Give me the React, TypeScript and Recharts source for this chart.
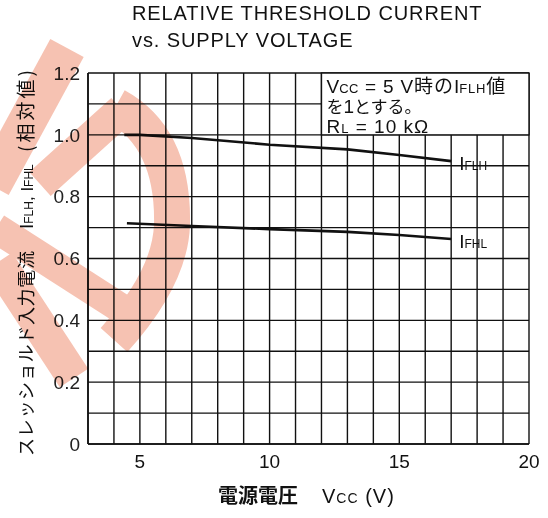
import React from 'react'
import { LineChart, Line, XAxis, YAxis, CartesianGrid, ReferenceArea } from 'recharts'

// supply voltage (V) / relative threshold current
const flhVolts = [4.4, 5, 7, 10, 13, 15, 17]
const flhValues = [1.0, 1.0, 0.99, 0.968, 0.953, 0.935, 0.915]
const fhlVolts = [4.5, 7, 10, 13, 15, 17]
const fhlValues = [0.714, 0.705, 0.695, 0.686, 0.676, 0.663]

const xTicks = [3, 4, 5, 6, 7, 8, 9, 10, 11, 12, 13, 14, 15, 16, 17, 18, 19, 20]
const xLabels = [5, 10, 15, 20]
const yTicks = [0, 0.1, 0.2, 0.3, 0.4, 0.5, 0.6, 0.7, 0.8, 0.9, 1.0, 1.1, 1.2]
const yLabels = [0, 0.2, 0.4, 0.6, 0.8, 1.0, 1.2]

const LATIN = '"Liberation Sans", Arial, sans-serif'
const CJK = '"Noto Sans CJK JP", "Liberation Sans", sans-serif'
const MIXED = '"Liberation Sans", "Noto Sans CJK JP", sans-serif'

const flhData = flhVolts.map((x, i) => ({ x, y: flhValues[i] }))
const fhlData = fhlVolts.map((x, i) => ({ x, y: fhlValues[i] }))

const endLabel = (sub: string, count: number) => (props: any) => {
  if (props.index !== count - 1) return null
  return (
    <text x={props.x + 8} y={props.y + 9} fontFamily={LATIN} fill="#111">
      <tspan fontSize={19}>I</tspan>
      <tspan fontSize={12}>{sub}</tspan>
    </text>
  )
}

const boxLabel = (props: any) => {
  const { x, y } = props.viewBox
  const tx = x + 5
  return (
    <g fill="#111" fontFamily={MIXED}>
      <text x={tx} y={y + 20} fontSize={19}>
        <tspan>V</tspan>
        <tspan fontSize={13} letterSpacing={0.5}>CC</tspan>
        <tspan letterSpacing={0.8}> = 5 V</tspan>
        <tspan letterSpacing={1}>時の</tspan>
        <tspan>I</tspan>
        <tspan fontSize={13} letterSpacing={0.8}>FLH</tspan>
        <tspan>値</tspan>
      </text>
      <text x={tx} y={y + 40} fontSize={17}>
        を<tspan fontSize={19}>1</tspan>とする。
      </text>
      <text x={tx} y={y + 60} fontSize={19} letterSpacing={1}>
        R<tspan fontSize={13}>L</tspan> = 10 kΩ
      </text>
    </g>
  )
}

const xAxisLabel = (props: any) => {
  const { x, y } = props.viewBox
  const by = y + 59
  return (
    <g fill="#111">
      <text x={x + 130} y={by} fontFamily={CJK} fontSize={20} fontWeight={700}>
        電源電圧
      </text>
      <text x={x + 234} y={by} fontFamily={LATIN} letterSpacing={1}>
        <tspan fontSize={20}>V</tspan>
        <tspan fontSize={14}>CC</tspan>
        <tspan fontSize={20}> (V)</tspan>
      </text>
    </g>
  )
}

const yAxisLabel = () => {
  const cx = 33
  const rot = (yy: number) => `rotate(-90 ${cx} ${yy})`
  return (
    <g fill="#111">
      <text x={cx} y={456} transform={rot(456)} fontFamily={CJK} fontSize={18} letterSpacing={0.7}>
        スレッショルド入力電流
      </text>
      <text x={cx} y={229} transform={rot(229)} fontFamily={LATIN}>
        <tspan fontSize={19}>I</tspan>
        <tspan fontSize={12}>FLH</tspan>
        <tspan fontSize={17}>, I</tspan>
        <tspan fontSize={12}>FHL</tspan>
      </text>
      <text x={cx} y={152} transform={rot(152)} fontFamily={CJK} fontSize={19} letterSpacing={3}>
        (相対値)
      </text>
    </g>
  )
}

// faint red stamp printed over the sheet
const Stamp = () => (
  <svg
    width={548}
    height={518}
    style={{ position: 'absolute', left: 0, top: 0, pointerEvents: 'none', mixBlendMode: 'multiply' }}
  >
    <g stroke="#f6c2b2" fill="none" strokeLinecap="butt">
      <path d="M 67 48 L -8 186" strokeWidth={38} />
      <path d="M 40 184 L 122 110" strokeWidth={32} />
      <path d="M 116 106 Q 174 138 172 225 Q 170 278 114 340" strokeWidth={36} />
      <path d="M -4 228 L 136 318" strokeWidth={30} />
      <path d="M -2 262 L 74 378" strokeWidth={34} />
    </g>
  </svg>
)

export default function App() {
  return (
    <div style={{ position: 'absolute', left: 0, top: 0, width: 548, height: 518, background: '#fff' }}>
      <div
        style={{
          position: 'absolute',
          left: 132,
          top: 0,
          fontFamily: LATIN,
          fontSize: 20,
          letterSpacing: 0.9,
          lineHeight: '27px',
          color: '#111',
        }}
      >
        RELATIVE THRESHOLD CURRENT
        <br />
        vs. SUPPLY VOLTAGE
      </div>
      <LineChart width={548} height={518} margin={{ top: 73, right: 19, bottom: 44, left: 40 }}>
        <CartesianGrid stroke="#111" strokeWidth={1.4} horizontalValues={yTicks} verticalValues={xTicks} />
        <XAxis
          type="number"
          dataKey="x"
          domain={[3, 20]}
          ticks={xTicks}
          interval={0}
          tickFormatter={(v: number) => (xLabels.includes(v) ? String(v) : '')}
          tick={{ fill: '#111', fontSize: 19, fontFamily: LATIN }}
          tickLine={false}
          tickSize={0}
          tickMargin={11}
          axisLine={{ stroke: '#111', strokeWidth: 1.6 }}
          height={30}
          allowDataOverflow
          label={xAxisLabel}
        />
        <YAxis
          type="number"
          domain={[0, 1.2]}
          ticks={yTicks}
          interval={0}
          tickFormatter={(v: number) =>
            yLabels.some(l => Math.abs(l - v) < 1e-6) ? (v === 0 ? '0' : v.toFixed(1)) : ''
          }
          tick={{ fill: '#222', fontSize: 19, fontFamily: LATIN }}
          tickLine={false}
          tickSize={0}
          tickMargin={8}
          axisLine={{ stroke: '#111', strokeWidth: 1.6 }}
          width={48}
          allowDataOverflow
          label={yAxisLabel}
        />
        <ReferenceArea
          x1={12}
          x2={20}
          y1={1.0}
          y2={1.2}
          fill="#fff"
          fillOpacity={1}
          stroke="#111"
          strokeWidth={1.4}
          label={boxLabel}
        />
        <Line
          data={flhData}
          dataKey="y"
          stroke="#111"
          strokeWidth={2.6}
          dot={false}
          isAnimationActive={false}
          label={endLabel('FLH', flhData.length)}
        />
        <Line
          data={fhlData}
          dataKey="y"
          stroke="#111"
          strokeWidth={2.6}
          dot={false}
          isAnimationActive={false}
          label={endLabel('FHL', fhlData.length)}
        />
      </LineChart>
      <Stamp />
    </div>
  )
}
